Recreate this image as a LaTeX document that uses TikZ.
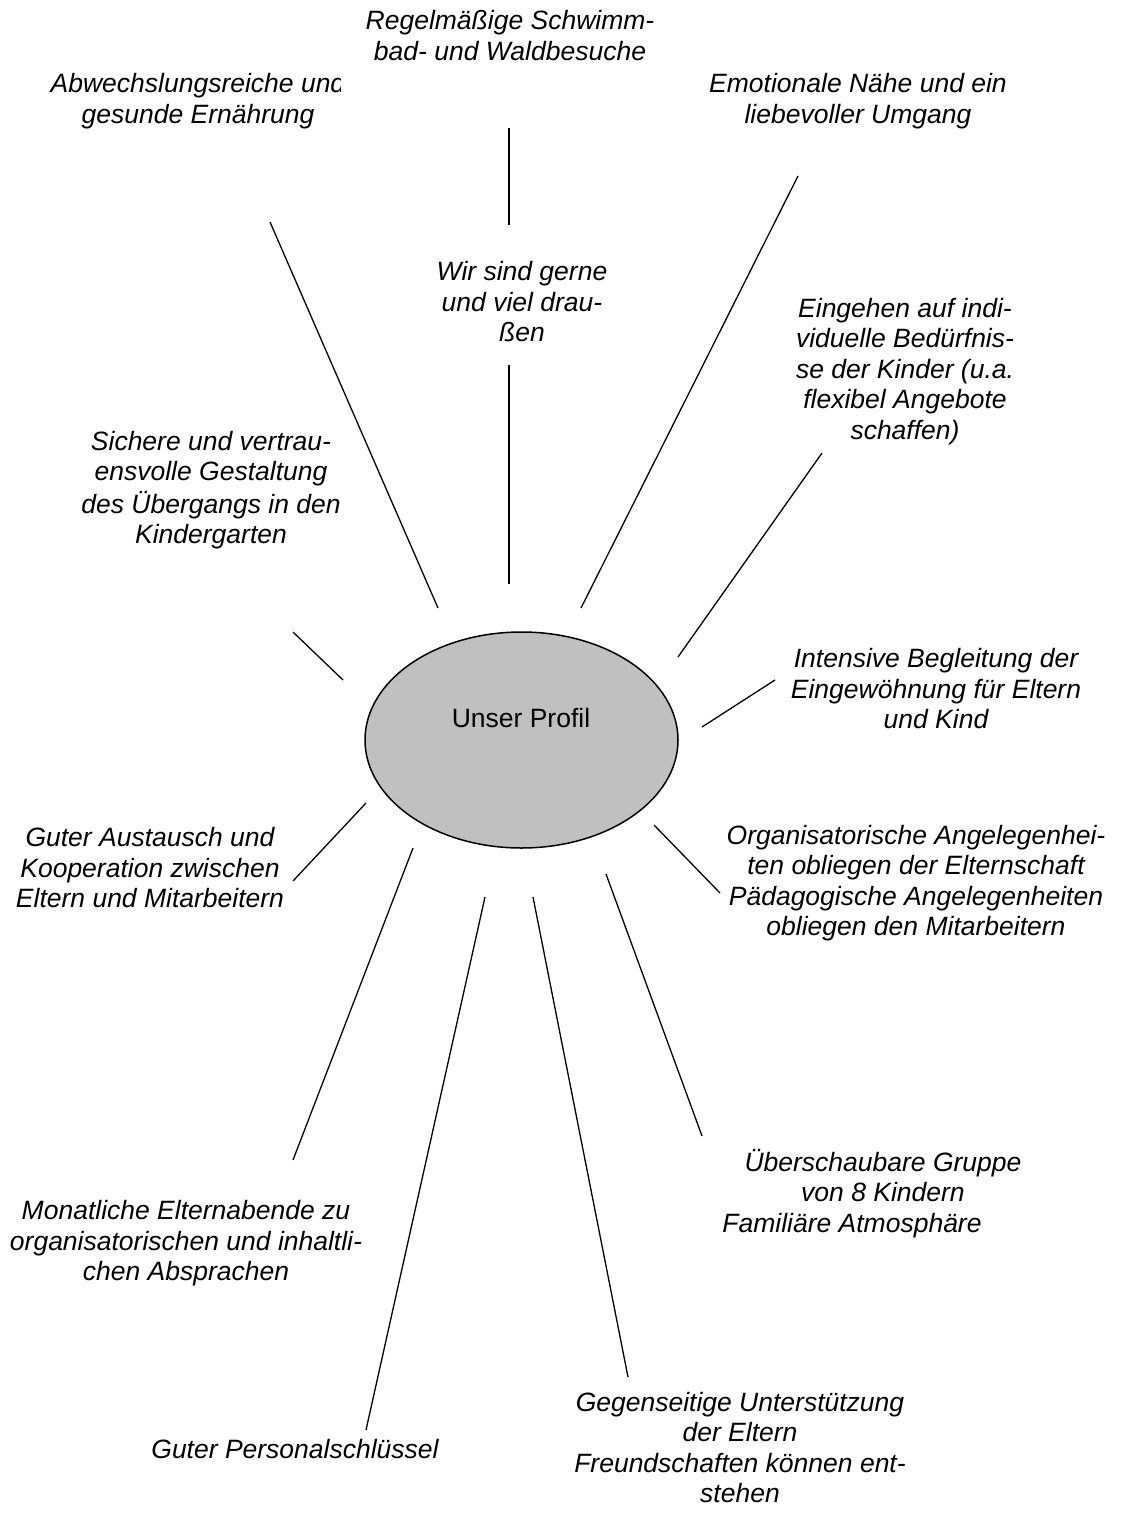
\documentclass[tikz,border=0pt]{standalone}
\usepackage{fontspec}
\setmainfont{Liberation Sans}
\usetikzlibrary{shapes.geometric}
\definecolor{hubgray}{RGB}{192,192,192}
\begin{document}
\begin{tikzpicture}[x=1pt,y=-1pt,
  lbl/.style={align=center, inner sep=0pt, font=\fontsize{26.5}{30.5}\selectfont\itshape},
  ray/.style={line width=1.3pt},
  hub/.style={ellipse, draw, line width=1.5pt, fill=hubgray, minimum width=313pt, minimum height=216pt, inner sep=0pt}]
\useasboundingbox[fill=white] (0,0) rectangle (1121,1517);

% centre
\node[hub] (hub) at (521.5,740) {};
\node[inner sep=0pt, font=\fontsize{26.5}{30.5}\selectfont] (hubtext) at (521,718) {Unser Profil};

% texts
\node[lbl] (t1) at (510,39) {\strut Regelmäßige Schwimm-\\\strut bad- und Waldbesuche};
\begin{scope}
\clip (0,55) rectangle (340,140);
\node[lbl] (t2) at (198,102) {\strut Abwechslungsreiche und\\\strut gesunde Ernährung};
\end{scope}
\node[lbl] (t3) at (858,102) {\strut Emotionale Nähe und ein\\\strut liebevoller Umgang};
\node[lbl] (t4) at (522,305) {\strut Wir sind gerne\\\strut und viel drau-\\\strut ßen};
\node[lbl] (t5) at (905,372) {\strut Eingehen auf indi-\\\strut viduelle Bedürfnis-\\\strut se der Kinder (u.a.\\\strut flexibel Angebote\\\strut schaffen)};
\node[lbl] (t6) at (211,491) {\strut Sichere und vertrau-\\\strut ensvolle Gestaltung\\\strut des Übergangs in den\\\strut Kindergarten};
\node[lbl] (t7) at (936,692) {\strut Intensive Begleitung der\\\strut Eingewöhnung für Eltern\\\strut und Kind};
\node[lbl] (t8) at (150,871) {\strut Guter Austausch und\\\strut Kooperation zwischen\\\strut Eltern und Mitarbeitern};
\node[lbl] (t9) at (916,884) {\strut Organisatorische Angelegenhei-\\\strut ten obliegen der Elternschaft\\\strut Pädagogische Angelegenheiten\\\strut obliegen den Mitarbeitern};
\node[lbl] (t10) at (883,1195) {\strut Überschaubare Gruppe\\\strut von 8 Kindern\\\strut Familiäre Atmosphäre\rule{62pt}{0pt}};
\node[lbl] (t11) at (186,1244) {\strut Monatliche Elternabende zu\\\strut organisatorischen und inhaltli-\\\strut chen Absprachen};
\node[lbl] (t12) at (295,1452) {\strut Guter Personalschlüssel};
\node[lbl] (t13) at (740,1451) {\strut Gegenseitige Unterstützung\\\strut der Eltern\\\strut Freundschaften können ent-\\\strut stehen};

% ray end points
\coordinate (a1) at (270,222);  \coordinate (b1) at (438,608);
\coordinate (a2) at (509,128);  \coordinate (b2) at (509,225);
\coordinate (a3) at (509,365);  \coordinate (b3) at (509,584);
\coordinate (a4) at (798,176);  \coordinate (b4) at (581,608);
\coordinate (a5) at (822,453);  \coordinate (b5) at (678,657);
\coordinate (a6) at (293,632);  \coordinate (b6) at (343,680);
\coordinate (a7) at (775,680);  \coordinate (b7) at (702,727);
\coordinate (a8) at (293,881);  \coordinate (b8) at (366,803);
\coordinate (a9) at (720,893);  \coordinate (b9) at (654,825);
\coordinate (a10) at (293,1160); \coordinate (b10) at (413,848);
\coordinate (a11) at (366,1430); \coordinate (b11) at (485,897);
\coordinate (a12) at (628,1377); \coordinate (b12) at (533,897);
\coordinate (a13) at (702,1136); \coordinate (b13) at (606,874);

\foreach \i in {1,...,13} \draw[ray] (a\i) -- (b\i);
\end{tikzpicture}
\end{document}
